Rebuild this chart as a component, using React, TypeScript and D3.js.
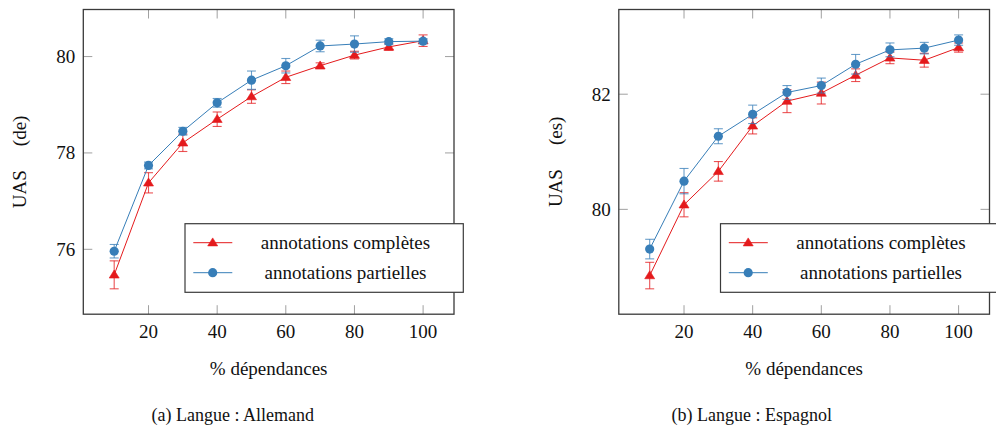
import React from "react";
import * as d3 from "d3";

const xValues = [10, 20, 30, 40, 50, 60, 70, 80, 90, 100];
const xTicks = [20, 40, 60, 80, 100];

const deComplete = [75.47, 77.38, 78.21, 78.70, 79.17, 79.57, 79.81, 80.03, 80.20, 80.33];
const deCompleteErr = [0.29, 0.21, 0.18, 0.15, 0.14, 0.13, 0.06, 0.08, 0.07, 0.12];
const dePartial = [75.96, 77.74, 78.45, 79.04, 79.51, 79.81, 80.22, 80.26, 80.31, 80.32];
const dePartialErr = [0.14, 0.07, 0.08, 0.09, 0.19, 0.15, 0.12, 0.17, 0.06, 0.05];
const deYTicks = [76, 78, 80];

const esComplete = [78.85, 80.08, 80.66, 81.45, 81.88, 82.02, 82.33, 82.63, 82.59, 82.81];
const esCompleteErr = [0.23, 0.21, 0.17, 0.14, 0.2, 0.19, 0.11, 0.1, 0.12, 0.08];
const esPartial = [79.31, 80.49, 81.27, 81.65, 82.03, 82.15, 82.52, 82.77, 82.80, 82.94];
const esPartialErr = [0.17, 0.22, 0.13, 0.16, 0.12, 0.13, 0.17, 0.12, 0.1, 0.09];
const esYTicks = [80, 82];

const seriesNames = ["annotations complètes", "annotations partielles"];
const seriesColors = ["#e41a1c", "#377eb8"];
const xLabel = "% dépendances";

const FONT = "Liberation Serif";

function enlarge(lo: number, hi: number): [number, number] {
  const r = hi - lo;
  return [lo - 0.1 * r, hi + 0.1 * r];
}

function T({
  x,
  y,
  size = 19,
  anchor = "start",
  rotate = 0,
  children,
}: {
  x: number;
  y: number;
  size?: number;
  anchor?: string;
  rotate?: number;
  children: React.ReactNode;
}) {
  return (
    <text
      transform={`translate(${x},${y}) rotate(${rotate})`}
      textAnchor={anchor}
      fontSize={size}
      fontFamily={FONT}
      fill="#111"
    >
      {children}
    </text>
  );
}

type PanelProps = {
  left: number;
  complete: number[];
  completeErr: number[];
  partial: number[];
  partialErr: number[];
  yTicks: number[];
  lang: string;
  caption: string;
  captionX: number;
};

function Triangle({ x, y, color, s = 5 }: { x: number; y: number; color: string; s?: number }) {
  const h = s * 1.6;
  const p = `M${x},${y - h * 0.6} L${x + s},${y + h * 0.4} L${x - s},${y + h * 0.4} Z`;
  return <path d={p} fill={color} stroke={color} strokeWidth={0.6} />;
}

function Panel(props: PanelProps) {
  const { left, complete, completeErr, partial, partialErr, yTicks, lang, caption, captionX } = props;
  const width = 370.7;
  const top = 9.5;
  const bottom = 314.2;
  const right = left + width;

  const xDom = enlarge(d3.min(xValues)!, d3.max(xValues)!);
  const lo = Math.min(d3.min(complete.map((v, i) => v - completeErr[i]))!, d3.min(partial.map((v, i) => v - partialErr[i]))!);
  const hi = Math.max(d3.max(complete.map((v, i) => v + completeErr[i]))!, d3.max(partial.map((v, i) => v + partialErr[i]))!);
  const yDom = enlarge(lo, hi);

  const x = d3.scaleLinear().domain(xDom).range([left, right]);
  const y = d3.scaleLinear().domain(yDom).range([bottom, top]);
  const line = d3.line<number>().x((_, i) => x(xValues[i])).y((v) => y(v));

  const tickLen = 9;
  const series = [
    { vals: complete, errs: completeErr, color: seriesColors[0], mark: "tri" },
    { vals: partial, errs: partialErr, color: seriesColors[1], mark: "circ" },
  ];

  const legL = left + 101.7;
  const legT = 223.7;
  const legW = 278.3;
  const legH = 68.6;
  const rows = [242.7, 272.7];

  return (
    <g>
      {xTicks.map((t) => (
        <g key={"xt" + t}>
          <line x1={x(t)} x2={x(t)} y1={bottom} y2={bottom - tickLen} stroke="#a0a0a0" strokeWidth={1} />
          <line x1={x(t)} x2={x(t)} y1={top} y2={top + tickLen} stroke="#a0a0a0" strokeWidth={1} />
          <T x={x(t)} y={338} anchor="middle">
            {t}
          </T>
        </g>
      ))}
      {yTicks.map((t) => (
        <g key={"yt" + t}>
          <line x1={left} x2={left + tickLen} y1={y(t)} y2={y(t)} stroke="#a0a0a0" strokeWidth={1} />
          <line x1={right} x2={right - tickLen} y1={y(t)} y2={y(t)} stroke="#a0a0a0" strokeWidth={1} />
          <T x={left - 8} y={y(t) + 6.5} anchor="end">
            {t}
          </T>
        </g>
      ))}
      {series.map((s, si) => (
        <g key={"s" + si}>
          <path d={line(s.vals)!} fill="none" stroke={s.color} strokeWidth={1} />
          {s.vals.map((v, i) => {
            const cx = x(xValues[i]);
            const y1 = y(v + s.errs[i]);
            const y2 = y(v - s.errs[i]);
            return (
              <g key={"e" + i} stroke={s.color} strokeOpacity={0.75} strokeWidth={1.1}>
                <line x1={cx} x2={cx} y1={y1} y2={y2} />
                <line x1={cx - 4.5} x2={cx + 4.5} y1={y1} y2={y1} />
                <line x1={cx - 4.5} x2={cx + 4.5} y1={y2} y2={y2} />
              </g>
            );
          })}
          {s.vals.map((v, i) =>
            s.mark === "tri" ? (
              <Triangle key={"m" + i} x={x(xValues[i])} y={y(v)} color={s.color} />
            ) : (
              <circle key={"m" + i} cx={x(xValues[i])} cy={y(v)} r={4.6} fill={s.color} />
            )
          )}
        </g>
      ))}
      <rect x={left} y={top} width={width} height={bottom - top} fill="none" stroke="#3a3a3a" strokeWidth={1.3} />
      <rect x={legL} y={legT} width={legW} height={legH} fill="#fff" stroke="#3a3a3a" strokeWidth={1.2} />
      {series.map((s, si) => (
        <g key={"l" + si}>
          <line x1={legL + 8.3} x2={legL + 47.3} y1={rows[si]} y2={rows[si]} stroke={s.color} strokeWidth={1} />
          {s.mark === "tri" ? (
            <Triangle x={legL + 27.7} y={rows[si]} color={s.color} />
          ) : (
            <circle cx={legL + 27.7} cy={rows[si]} r={4.6} fill={s.color} />
          )}
          <T x={legL + 160.5} y={rows[si] + 6} anchor="middle">
            {seriesNames[si]}
          </T>
        </g>
      ))}
      <T x={(left + right) / 2} y={375} anchor="middle">
        {xLabel}
      </T>
      <T x={left - 57} y={(top + bottom) / 2} anchor="middle" rotate={-90}>
        <tspan>UAS</tspan>
        <tspan dx={24}>{`(${lang})`}</tspan>
      </T>
      <T x={captionX} y={421} size={18} anchor="middle">
        {caption}
      </T>
    </g>
  );
}

export default function App() {
  return (
    <svg
      width={996}
      height={425}
      style={{ position: "absolute", left: 0, top: 0, display: "block", background: "#fff" }}
    >
      <rect x={0} y={0} width={996} height={425} fill="#fff" />
      <Panel
        left={83.3}
        complete={deComplete}
        completeErr={deCompleteErr}
        partial={dePartial}
        partialErr={dePartialErr}
        yTicks={deYTicks}
        lang="de"
        caption="(a)  Langue : Allemand"
        captionX={232.8}
      />
      <Panel
        left={618.8}
        complete={esComplete}
        completeErr={esCompleteErr}
        partial={esPartial}
        partialErr={esPartialErr}
        yTicks={esYTicks}
        lang="es"
        caption="(b)  Langue : Espagnol"
        captionX={751.7}
      />
    </svg>
  );
}
